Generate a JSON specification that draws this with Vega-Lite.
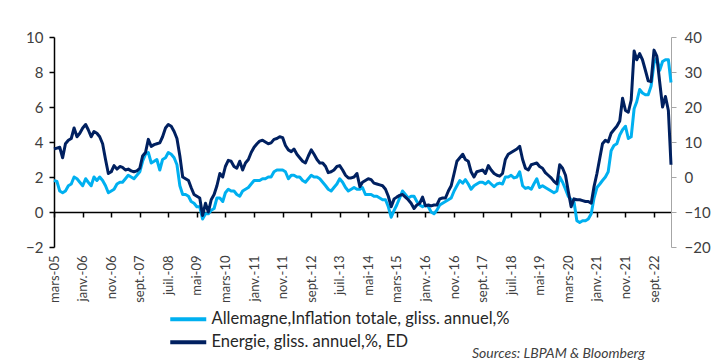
{
 "$schema": "https://vega.github.io/schema/vega-lite/v6.json",
 "width": 617, "height": 210,
 "autosize": {"type": "none"},
 "padding": {"left": 54, "top": 37, "right": 48, "bottom": 117},
 "background": "white",
 "config": {"view": {"stroke": null}, "font": "Lato", "axis": {"grid": false}},
 "title": {"text": "Sources: LBPAM & Bloomberg", "orient": "bottom", "anchor": "end", "fontSize": 14, "fontStyle": "italic", "fontWeight": "normal", "color": "#404040", "offset": 24, "dx": -65, "dy": -28},
 "data": {"values": [
{"date":"2005-03-01","inflation":1.8,"energie":8},
{"date":"2005-04-01","inflation":1.75,"energie":8.25},
{"date":"2005-05-01","inflation":1.2,"energie":8.5},
{"date":"2005-06-01","inflation":1.1,"energie":5.5},
{"date":"2005-07-01","inflation":1.2,"energie":9.5},
{"date":"2005-08-01","inflation":1.5,"energie":10.5},
{"date":"2005-09-01","inflation":1.6,"energie":11},
{"date":"2005-10-01","inflation":2.0,"energie":14},
{"date":"2005-11-01","inflation":1.9,"energie":11.5},
{"date":"2005-12-01","inflation":1.7,"energie":12.5},
{"date":"2006-01-01","inflation":1.5,"energie":14},
{"date":"2006-02-01","inflation":1.9,"energie":15},
{"date":"2006-03-01","inflation":1.7,"energie":13.5},
{"date":"2006-04-01","inflation":1.5,"energie":11.5},
{"date":"2006-05-01","inflation":2.0,"energie":13},
{"date":"2006-06-01","inflation":1.8,"energie":12.5},
{"date":"2006-07-01","inflation":2.0,"energie":11.5},
{"date":"2006-08-01","inflation":1.8,"energie":9.5},
{"date":"2006-09-01","inflation":1.5,"energie":5},
{"date":"2006-10-01","inflation":1.1,"energie":1},
{"date":"2006-11-01","inflation":1.2,"energie":1.5},
{"date":"2006-12-01","inflation":1.3,"energie":3.25},
{"date":"2007-01-01","inflation":1.6,"energie":2.25},
{"date":"2007-02-01","inflation":1.7,"energie":3},
{"date":"2007-03-01","inflation":1.7,"energie":2.75},
{"date":"2007-04-01","inflation":1.9,"energie":2},
{"date":"2007-05-01","inflation":2.1,"energie":2.25},
{"date":"2007-06-01","inflation":2.0,"energie":1.75},
{"date":"2007-07-01","inflation":1.9,"energie":1.5},
{"date":"2007-08-01","inflation":2.1,"energie":1.75},
{"date":"2007-09-01","inflation":2.3,"energie":2.5},
{"date":"2007-10-01","inflation":2.9,"energie":6},
{"date":"2007-11-01","inflation":3.3,"energie":7},
{"date":"2007-12-01","inflation":3.4,"energie":10.75},
{"date":"2008-01-01","inflation":2.8,"energie":8.75},
{"date":"2008-02-01","inflation":2.9,"energie":9.25},
{"date":"2008-03-01","inflation":3.0,"energie":9.5},
{"date":"2008-04-01","inflation":2.4,"energie":9.75},
{"date":"2008-05-01","inflation":3.0,"energie":11.5},
{"date":"2008-06-01","inflation":3.1,"energie":14},
{"date":"2008-07-01","inflation":3.4,"energie":15},
{"date":"2008-08-01","inflation":3.3,"energie":14.5},
{"date":"2008-09-01","inflation":3.1,"energie":13},
{"date":"2008-10-01","inflation":2.7,"energie":11},
{"date":"2008-11-01","inflation":1.5,"energie":6},
{"date":"2008-12-01","inflation":1.0,"energie":0},
{"date":"2009-01-01","inflation":1.0,"energie":-0.5},
{"date":"2009-02-01","inflation":0.9,"energie":-1},
{"date":"2009-03-01","inflation":0.6,"energie":-3},
{"date":"2009-04-01","inflation":0.5,"energie":-5},
{"date":"2009-05-01","inflation":0.3,"energie":-5.5},
{"date":"2009-06-01","inflation":0.3,"energie":-6},
{"date":"2009-07-01","inflation":-0.4,"energie":-11},
{"date":"2009-08-01","inflation":-0.1,"energie":-7.5},
{"date":"2009-09-01","inflation":-0.1,"energie":-10},
{"date":"2009-10-01","inflation":0.1,"energie":-6.5},
{"date":"2009-11-01","inflation":0.2,"energie":-5},
{"date":"2009-12-01","inflation":0.8,"energie":-2.5},
{"date":"2010-01-01","inflation":0.8,"energie":1},
{"date":"2010-02-01","inflation":0.6,"energie":0},
{"date":"2010-03-01","inflation":1.1,"energie":3},
{"date":"2010-04-01","inflation":1.3,"energie":4.75},
{"date":"2010-05-01","inflation":1.2,"energie":4.5},
{"date":"2010-06-01","inflation":1.2,"energie":3},
{"date":"2010-07-01","inflation":1.0,"energie":2.5},
{"date":"2010-08-01","inflation":0.9,"energie":4.5},
{"date":"2010-09-01","inflation":1.2,"energie":2},
{"date":"2010-10-01","inflation":1.3,"energie":4},
{"date":"2010-11-01","inflation":1.4,"energie":5},
{"date":"2010-12-01","inflation":1.6,"energie":7},
{"date":"2011-01-01","inflation":1.8,"energie":8.5},
{"date":"2011-02-01","inflation":1.8,"energie":9.5},
{"date":"2011-03-01","inflation":1.8,"energie":10.25},
{"date":"2011-04-01","inflation":1.9,"energie":10.5},
{"date":"2011-05-01","inflation":1.9,"energie":10},
{"date":"2011-06-01","inflation":2.0,"energie":9.5},
{"date":"2011-07-01","inflation":2.0,"energie":9.75},
{"date":"2011-08-01","inflation":2.3,"energie":10.75},
{"date":"2011-09-01","inflation":2.4,"energie":11},
{"date":"2011-10-01","inflation":2.4,"energie":11.5},
{"date":"2011-11-01","inflation":2.4,"energie":11.25},
{"date":"2011-12-01","inflation":2.3,"energie":9},
{"date":"2012-01-01","inflation":1.9,"energie":7.75},
{"date":"2012-02-01","inflation":2.1,"energie":7.25},
{"date":"2012-03-01","inflation":2.1,"energie":8},
{"date":"2012-04-01","inflation":2.0,"energie":6.5},
{"date":"2012-05-01","inflation":2.0,"energie":5.5},
{"date":"2012-06-01","inflation":1.8,"energie":4.5},
{"date":"2012-07-01","inflation":1.7,"energie":4},
{"date":"2012-08-01","inflation":1.9,"energie":6},
{"date":"2012-09-01","inflation":2.1,"energie":7.75},
{"date":"2012-10-01","inflation":2.0,"energie":6.5},
{"date":"2012-11-01","inflation":2.0,"energie":5},
{"date":"2012-12-01","inflation":1.9,"energie":4},
{"date":"2013-01-01","inflation":1.7,"energie":4},
{"date":"2013-02-01","inflation":1.5,"energie":3},
{"date":"2013-03-01","inflation":1.3,"energie":1.25},
{"date":"2013-04-01","inflation":1.2,"energie":1.5},
{"date":"2013-05-01","inflation":1.4,"energie":2},
{"date":"2013-06-01","inflation":1.6,"energie":3},
{"date":"2013-07-01","inflation":1.9,"energie":3.25},
{"date":"2013-08-01","inflation":1.7,"energie":2},
{"date":"2013-09-01","inflation":1.4,"energie":0.5},
{"date":"2013-10-01","inflation":1.2,"energie":-0.25},
{"date":"2013-11-01","inflation":1.3,"energie":-0.25},
{"date":"2013-12-01","inflation":1.4,"energie":0},
{"date":"2014-01-01","inflation":1.3,"energie":1},
{"date":"2014-02-01","inflation":1.3,"energie":-2.75},
{"date":"2014-03-01","inflation":1.4,"energie":-1.5},
{"date":"2014-04-01","inflation":1.0,"energie":-1},
{"date":"2014-05-01","inflation":1.0,"energie":-0.5},
{"date":"2014-06-01","inflation":1.0,"energie":-0.75},
{"date":"2014-07-01","inflation":0.9,"energie":-1.75},
{"date":"2014-08-01","inflation":0.9,"energie":-2},
{"date":"2014-09-01","inflation":0.8,"energie":-2.25},
{"date":"2014-10-01","inflation":0.7,"energie":-2.5},
{"date":"2014-11-01","inflation":0.7,"energie":-3.5},
{"date":"2014-12-01","inflation":0.3,"energie":-5.5},
{"date":"2015-01-01","inflation":-0.3,"energie":-8.5},
{"date":"2015-02-01","inflation":0.1,"energie":-6.25},
{"date":"2015-03-01","inflation":0.4,"energie":-5.75},
{"date":"2015-04-01","inflation":0.8,"energie":-5.25},
{"date":"2015-05-01","inflation":1.2,"energie":-5},
{"date":"2015-06-01","inflation":1.0,"energie":-5.75},
{"date":"2015-07-01","inflation":0.8,"energie":-6.5},
{"date":"2015-08-01","inflation":0.9,"energie":-7.5},
{"date":"2015-09-01","inflation":0.9,"energie":-9},
{"date":"2015-10-01","inflation":0.6,"energie":-8},
{"date":"2015-11-01","inflation":0.4,"energie":-7.5},
{"date":"2015-12-01","inflation":0.3,"energie":-5.75},
{"date":"2016-01-01","inflation":0.4,"energie":-8.25},
{"date":"2016-02-01","inflation":0.3,"energie":-8},
{"date":"2016-03-01","inflation":0.0,"energie":-8.25},
{"date":"2016-04-01","inflation":-0.1,"energie":-8},
{"date":"2016-05-01","inflation":0.1,"energie":-8},
{"date":"2016-06-01","inflation":0.4,"energie":-6.25},
{"date":"2016-07-01","inflation":0.5,"energie":-6},
{"date":"2016-08-01","inflation":0.6,"energie":-6},
{"date":"2016-09-01","inflation":0.7,"energie":-4},
{"date":"2016-10-01","inflation":0.8,"energie":-2.5},
{"date":"2016-11-01","inflation":1.2,"energie":1},
{"date":"2016-12-01","inflation":1.5,"energie":4.5},
{"date":"2017-01-01","inflation":1.8,"energie":5.5},
{"date":"2017-02-01","inflation":1.65,"energie":6.5},
{"date":"2017-03-01","inflation":1.85,"energie":5},
{"date":"2017-04-01","inflation":1.6,"energie":4.5},
{"date":"2017-05-01","inflation":1.3,"energie":1.5},
{"date":"2017-06-01","inflation":1.5,"energie":0},
{"date":"2017-07-01","inflation":1.6,"energie":1.5},
{"date":"2017-08-01","inflation":1.7,"energie":1.75},
{"date":"2017-09-01","inflation":1.7,"energie":2},
{"date":"2017-10-01","inflation":1.6,"energie":1},
{"date":"2017-11-01","inflation":1.75,"energie":3.25},
{"date":"2017-12-01","inflation":1.6,"energie":2},
{"date":"2018-01-01","inflation":1.45,"energie":1},
{"date":"2018-02-01","inflation":1.6,"energie":0.5},
{"date":"2018-03-01","inflation":1.65,"energie":0.25},
{"date":"2018-04-01","inflation":1.6,"energie":1},
{"date":"2018-05-01","inflation":2.0,"energie":5},
{"date":"2018-06-01","inflation":2.0,"energie":6.5},
{"date":"2018-07-01","inflation":2.1,"energie":7},
{"date":"2018-08-01","inflation":1.95,"energie":7.5},
{"date":"2018-09-01","inflation":2.0,"energie":8},
{"date":"2018-10-01","inflation":2.3,"energie":8.75},
{"date":"2018-11-01","inflation":1.5,"energie":5},
{"date":"2018-12-01","inflation":1.35,"energie":2.5},
{"date":"2019-01-01","inflation":1.4,"energie":2},
{"date":"2019-02-01","inflation":1.3,"energie":3.5},
{"date":"2019-03-01","inflation":1.6,"energie":3.75},
{"date":"2019-04-01","inflation":1.9,"energie":4},
{"date":"2019-05-01","inflation":1.4,"energie":3},
{"date":"2019-06-01","inflation":1.5,"energie":2.5},
{"date":"2019-07-01","inflation":1.4,"energie":1.25},
{"date":"2019-08-01","inflation":1.3,"energie":0.5},
{"date":"2019-09-01","inflation":1.2,"energie":-0.25},
{"date":"2019-10-01","inflation":1.1,"energie":-1.25},
{"date":"2019-11-01","inflation":1.2,"energie":-2},
{"date":"2019-12-01","inflation":2.0,"energie":3.5},
{"date":"2020-01-01","inflation":1.7,"energie":2.5},
{"date":"2020-02-01","inflation":1.3,"energie":0.5},
{"date":"2020-03-01","inflation":0.9,"energie":-4},
{"date":"2020-04-01","inflation":0.7,"energie":-8.5},
{"date":"2020-05-01","inflation":0.6,"energie":-6.25},
{"date":"2020-06-01","inflation":-0.5,"energie":-6.5},
{"date":"2020-07-01","inflation":-0.6,"energie":-6.5},
{"date":"2020-08-01","inflation":-0.5,"energie":-6.75},
{"date":"2020-09-01","inflation":-0.5,"energie":-7},
{"date":"2020-10-01","inflation":-0.4,"energie":-7},
{"date":"2020-11-01","inflation":-0.1,"energie":-7.5},
{"date":"2020-12-01","inflation":0.8,"energie":-2.75},
{"date":"2021-01-01","inflation":1.4,"energie":1},
{"date":"2021-02-01","inflation":1.6,"energie":5.5},
{"date":"2021-03-01","inflation":1.8,"energie":9.5},
{"date":"2021-04-01","inflation":2.0,"energie":10.5},
{"date":"2021-05-01","inflation":2.3,"energie":10},
{"date":"2021-06-01","inflation":3.5,"energie":12.5},
{"date":"2021-07-01","inflation":3.8,"energie":13.5},
{"date":"2021-08-01","inflation":3.9,"energie":14.5},
{"date":"2021-09-01","inflation":4.4,"energie":16},
{"date":"2021-10-01","inflation":4.7,"energie":22.5},
{"date":"2021-11-01","inflation":4.9,"energie":19},
{"date":"2021-12-01","inflation":4.2,"energie":18.5},
{"date":"2022-01-01","inflation":4.3,"energie":22},
{"date":"2022-02-01","inflation":5.9,"energie":36},
{"date":"2022-03-01","inflation":6.3,"energie":33.5},
{"date":"2022-04-01","inflation":7.0,"energie":35.25},
{"date":"2022-05-01","inflation":6.8,"energie":33.5},
{"date":"2022-06-01","inflation":6.7,"energie":30.5},
{"date":"2022-07-01","inflation":6.7,"energie":27.5},
{"date":"2022-08-01","inflation":7.2,"energie":27.25},
{"date":"2022-09-01","inflation":8.5,"energie":36.25},
{"date":"2022-10-01","inflation":8.8,"energie":34.5},
{"date":"2022-11-01","inflation":8.1,"energie":27},
{"date":"2022-12-01","inflation":8.6,"energie":20},
{"date":"2023-01-01","inflation":8.7,"energie":23},
{"date":"2023-02-01","inflation":8.7,"energie":19},
{"date":"2023-03-01","inflation":7.4,"energie":3.5}
 ]},
 "layer": [
  {
   "mark": {"type": "line", "strokeWidth": 3, "strokeJoin": "round"},
   "encoding": {
    "x": {"field": "date", "type": "temporal",
     "scale": {"type": "utc", "domain": [{"year": 2005, "month": 3, "date": 1, "utc": true}, {"year": 2023, "month": 3, "date": 1, "utc": true}]},
     "axis": {
      "values": [
       {"year": 2005, "month": 3, "date": 1, "utc": true},
       {"year": 2006, "month": 1, "date": 1, "utc": true},
       {"year": 2006, "month": 11, "date": 1, "utc": true},
       {"year": 2007, "month": 9, "date": 1, "utc": true},
       {"year": 2008, "month": 7, "date": 1, "utc": true},
       {"year": 2009, "month": 5, "date": 1, "utc": true},
       {"year": 2010, "month": 3, "date": 1, "utc": true},
       {"year": 2011, "month": 1, "date": 1, "utc": true},
       {"year": 2011, "month": 11, "date": 1, "utc": true},
       {"year": 2012, "month": 9, "date": 1, "utc": true},
       {"year": 2013, "month": 7, "date": 1, "utc": true},
       {"year": 2014, "month": 5, "date": 1, "utc": true},
       {"year": 2015, "month": 3, "date": 1, "utc": true},
       {"year": 2016, "month": 1, "date": 1, "utc": true},
       {"year": 2016, "month": 11, "date": 1, "utc": true},
       {"year": 2017, "month": 9, "date": 1, "utc": true},
       {"year": 2018, "month": 7, "date": 1, "utc": true},
       {"year": 2019, "month": 5, "date": 1, "utc": true},
       {"year": 2020, "month": 3, "date": 1, "utc": true},
       {"year": 2021, "month": 1, "date": 1, "utc": true},
       {"year": 2021, "month": 11, "date": 1, "utc": true},
       {"year": 2022, "month": 9, "date": 1, "utc": true}
      ],
      "tickCount": 40,
      "labelExpr": "['janv.','févr.','mars','avr.','mai','juin','juil.','août','sept.','oct.','nov.','déc.'][utcmonth(datum.value)] + '-' + utcFormat(datum.value, '%y')",
      "offset": -35, "domainColor": "#000000", "domainWidth": 1.5, "tickColor": "#000000", "tickWidth": 1.5, "tickSize": 5,
      "labelAngle": 270, "labelPadding": 38, "labelFontSize": 13, "labelColor": "#404040", "labelFlush": false, "labelOverlap": false, "labelBound": false, "title": null
     }},
    "y": {"field": "inflation", "type": "quantitative",
     "scale": {"domain": [-2, 10], "nice": false, "zero": false},
     "axis": {"values": [-2, 0, 2, 4, 6, 8, 10], "domainColor": "#000000", "domainWidth": 1.5, "tickColor": "#000000", "tickWidth": 1.5, "tickSize": 5, "labelFontSize": 15, "labelColor": "#404040", "labelPadding": 6, "title": null}},
    "color": {"datum": "Allemagne,Inflation totale, gliss. annuel,%", "type": "nominal",
     "scale": {"domain": ["Allemagne,Inflation totale, gliss. annuel,%", "Energie, gliss. annuel,%, ED"], "range": ["#00B0F0", "#002060"]},
     "legend": {"orient": "none", "legendX": 126, "legendY": 274, "direction": "vertical", "title": null, "symbolType": "M-3,0H3", "symbolSize": 144, "symbolStrokeWidth": 4, "labelFontSize": 16.5, "labelColor": "#262626", "labelOffset": 15, "rowPadding": 6, "labelLimit": 500}}
   }
  },
  {
   "mark": {"type": "line", "strokeWidth": 3, "strokeJoin": "round"},
   "encoding": {
    "x": {"field": "date", "type": "temporal"},
    "y": {"field": "energie", "type": "quantitative",
     "scale": {"domain": [-20, 40], "nice": false, "zero": false},
     "axis": {"orient": "right", "values": [-20, -10, 0, 10, 20, 30, 40], "domainColor": "#A6A6A6", "domainWidth": 1, "tickColor": "#A6A6A6", "tickSize": 5, "labelFontSize": 15, "labelColor": "#404040", "labelPadding": 8, "title": null}},
    "color": {"datum": "Energie, gliss. annuel,%, ED", "type": "nominal"}
   }
  }
 ],
 "resolve": {"scale": {"y": "independent"}}
}
